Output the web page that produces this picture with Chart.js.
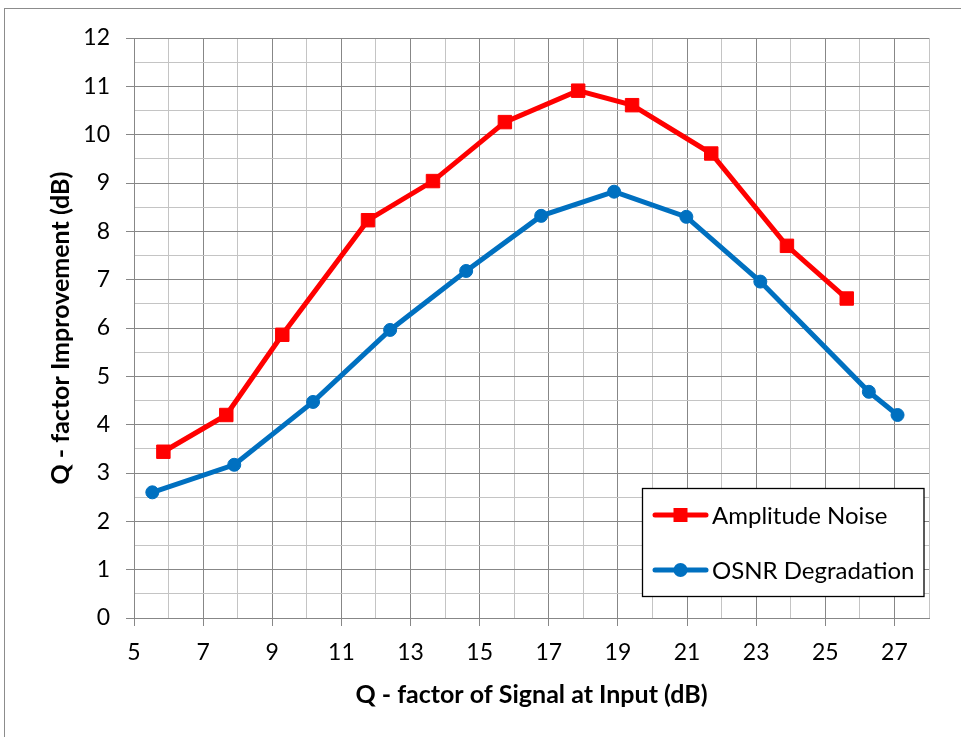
<!DOCTYPE html>
<html><head><meta charset="utf-8">
<script src="https://cdn.jsdelivr.net/npm/chart.js@4/dist/chart.umd.min.js"></script>
<style>html,body{margin:0;padding:0;background:#fff;}#wrap{width:961px;height:737px;position:relative;}</style>
</head><body><div id="wrap"><canvas id="c" width="961" height="737"></canvas></div>
<script>
const ampX = [5.85, 7.67, 9.29, 11.77, 13.65, 15.73, 17.85, 19.41, 21.70, 23.89, 25.62];
const ampY = [3.44, 4.20, 5.86, 8.23, 9.04, 10.26, 10.91, 10.61, 9.61, 7.70, 6.61];
const osnrX = [5.53, 7.90, 10.18, 12.41, 14.61, 16.78, 18.89, 20.98, 23.12, 26.26, 27.09];
const osnrY = [2.60, 3.17, 4.47, 5.96, 7.18, 8.32, 8.82, 8.30, 6.96, 4.68, 4.20];
const seriesNames = ['Amplitude Noise', 'OSNR Degradation'];
const xTitle = 'Q - factor of Signal at Input (dB)';
const yTitle = 'Q - factor Improvement (dB)';

const FONT = 'Lato, "Open Sans", sans-serif';
const RED = '#ff0000', BLUE = '#0070c0';
const MAJ = '#878787', MIN = '#c4c4c4';

const framePlugin = {
  id: 'frame',
  beforeDraw(chart) {
    const ctx = chart.ctx;
    ctx.save();
    ctx.fillStyle = '#fff';
    ctx.fillRect(0, 0, chart.width, chart.height);
    ctx.strokeStyle = '#8c8c8c';
    ctx.lineWidth = 1;
    ctx.strokeRect(4.5, 8.5, 1000, 1000);
    ctx.restore();
  }
};

const legendPlugin = {
  id: 'customLegend',
  afterDraw(chart) {
    const ctx = chart.ctx;
    ctx.save();
    const bx = 642.5, by = 488.5, bw = 281.5, bh = 108;
    ctx.fillStyle = '#fff';
    ctx.fillRect(bx, by, bw, bh);
    ctx.strokeStyle = '#000';
    ctx.lineWidth = 1.3;
    ctx.strokeRect(bx, by, bw, bh);
    const rows = [
      {y: 515, color: RED, shape: 'rect', label: seriesNames[0]},
      {y: 570, color: BLUE, shape: 'circle', label: seriesNames[1]}
    ];
    rows.forEach(r => {
      ctx.strokeStyle = r.color;
      ctx.lineWidth = 5;
      ctx.lineCap = 'round';
      ctx.beginPath();
      ctx.moveTo(655, r.y);
      ctx.lineTo(706, r.y);
      ctx.stroke();
      ctx.fillStyle = r.color;
      if (r.shape === 'rect') {
        ctx.fillRect(673.5, r.y - 7, 14, 14);
      } else {
        ctx.beginPath();
        ctx.arc(680.5, r.y, 7, 0, Math.PI * 2);
        ctx.fill();
      }
      ctx.fillStyle = '#000';
      ctx.font = '24px ' + FONT;
      ctx.textBaseline = 'middle';
      ctx.textAlign = 'left';
      ctx.fillText(r.label, 712, r.y + 1);
    });
    ctx.restore();
  }
};

new Chart(document.getElementById('c'), {
  type: 'scatter',
  data: {
    datasets: [
      {
        label: seriesNames[0],
        data: ampX.map((x, i) => ({x, y: ampY[i]})),
        showLine: true,
        borderColor: RED,
        backgroundColor: RED,
        borderWidth: 5,
        pointStyle: 'rect',
        pointRadius: 9.5,
        pointBorderWidth: 1,
        pointBorderColor: RED,
        pointBackgroundColor: RED
      },
      {
        label: seriesNames[1],
        data: osnrX.map((x, i) => ({x, y: osnrY[i]})),
        showLine: true,
        borderColor: BLUE,
        backgroundColor: BLUE,
        borderWidth: 5,
        pointStyle: 'circle',
        pointRadius: 6.5,
        pointBorderWidth: 1,
        pointBorderColor: BLUE,
        pointBackgroundColor: BLUE
      }
    ]
  },
  options: {
    responsive: false,
    animation: false,
    events: [],
    layout: {padding: {left: 0, top: 38, right: 32, bottom: 0}},
    plugins: {legend: {display: false}, tooltip: {enabled: false}},
    scales: {
      x: {
        type: 'linear',
        min: 5, max: 28,
        afterFit(s) { s.height = 119; },
        ticks: {
          stepSize: 1,
          autoSkip: false,
          maxRotation: 0,
          padding: 13,
          color: '#000',
          font: {family: FONT, size: 23},
          callback: v => (Math.round(v) % 2 === 1 ? String(v) : '')
        },
        grid: {
          color: c => (Math.round(c.tick.value) % 2 === 1 ? MAJ : MIN),
          tickColor: c => (Math.round(c.tick.value) % 2 === 1 ? MAJ : 'rgba(0,0,0,0)'),
          tickLength: 8,
          lineWidth: 1
        },
        border: {color: MAJ, width: 1},
        title: {
          display: true,
          text: xTitle,
          color: '#000',
          font: {family: FONT, size: 25, weight: 'bold'},
          padding: {top: 0, bottom: 27}
        }
      },
      y: {
        type: 'linear',
        min: 0, max: 12,
        afterFit(s) { s.width = 134; },
        ticks: {
          stepSize: 0.5,
          autoSkip: false,
          padding: 16,
          color: '#000',
          font: {family: FONT, size: 23},
          callback: v => (Number.isInteger(v) ? String(v) : '')
        },
        grid: {
          color: c => (Number.isInteger(c.tick.value) ? MAJ : MIN),
          tickColor: c => (Number.isInteger(c.tick.value) ? MAJ : 'rgba(0,0,0,0)'),
          tickLength: 8,
          lineWidth: 1
        },
        border: {color: MAJ, width: 1},
        title: {
          display: true,
          text: yTitle,
          color: '#000',
          font: {family: FONT, size: 25, weight: 'bold'},
          padding: {top: 46, bottom: 0}
        }
      }
    }
  },
  plugins: [framePlugin, legendPlugin]
});
</script>
</body></html>
